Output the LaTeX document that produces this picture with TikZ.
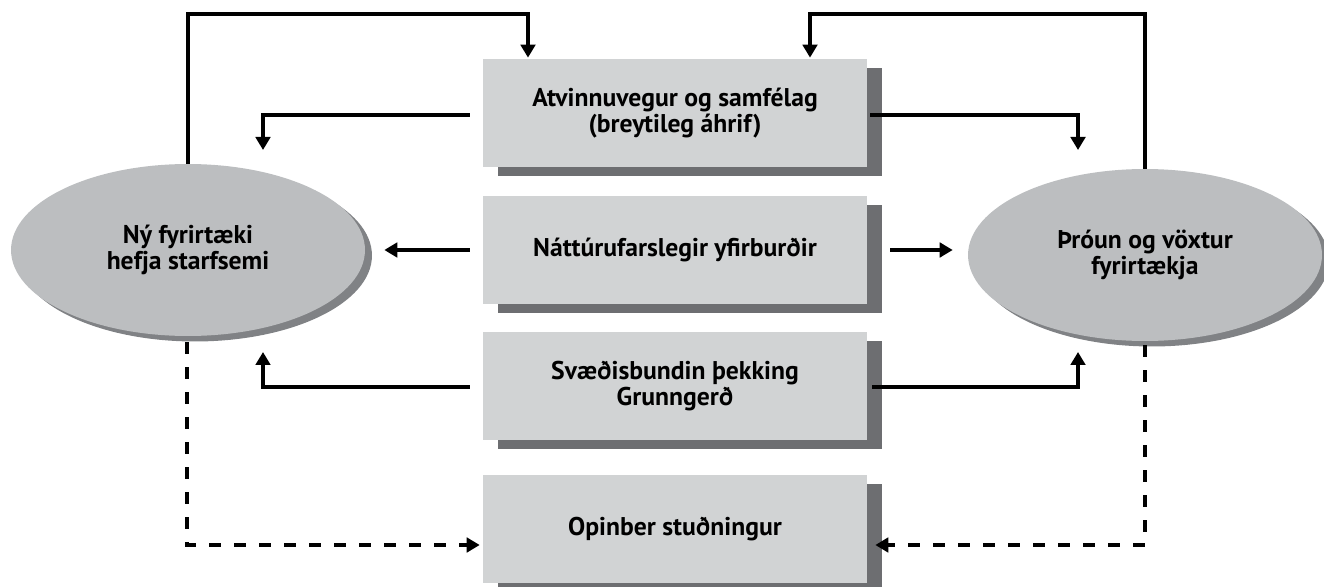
\documentclass[tikz,border=0pt]{standalone}
\usepackage{fontspec}
\setmainfont{PT Sans}
\usepackage{tikz}
\usetikzlibrary{arrows.meta,positioning,calc,shapes.geometric,shadows}
\definecolor{boxgray}{RGB}{209,211,212}
\definecolor{boxshadow}{RGB}{109,110,113}
\definecolor{ovalgray}{RGB}{188,190,192}
\definecolor{ovalshadow}{RGB}{128,130,133}

\begin{document}
\begin{tikzpicture}[x=0.02cm,y=-0.02cm,
    factorbox/.style={fill=boxgray,minimum width=7.68cm,minimum height=2.16cm,inner sep=0pt,align=center,
      font=\fontsize{14.6}{13.2}\selectfont\bfseries,
      drop shadow={shadow xshift=0.3cm,shadow yshift=-0.18cm,fill=boxshadow,opacity=1}},
    firmoval/.style={ellipse,fill=ovalgray,minimum width=7.08cm,minimum height=3.44cm,inner sep=0pt,align=center,
      font=\fontsize{14.6}{13.2}\selectfont\bfseries,
      drop shadow={shadow xshift=0.14cm,shadow yshift=-0.11cm,fill=ovalshadow,opacity=1}},
    flow/.style={line width=2.3pt,-{Triangle[width=0.29cm,length=0.26cm]}},
    support/.style={flow,dash pattern=on 0.24cm off 0.26cm}]
  \useasboundingbox (0,0) rectangle (1324,587);

  \node[factorbox] (atvinnu) at (675,113) {Atvinnuvegur og samfélag\\(breytileg áhrif)};
  \node[factorbox] (natt) at (675,250) {Náttúrufarslegir yfirburðir};
  \node[factorbox] (svaedi) at (675,386) {Svæðisbundin þekking\\Grunngerð};
  \node[factorbox] (opinber) at (675,529) {Opinber stuðningur};

  \node[firmoval] (nyfyr) at (188,250) {Ný fyrirtæki\\hefja starfsemi};
  \node[firmoval] (throun) at (1145,255) {Þróun og vöxtur\\fyrirtækja};

  % feedback over the top
  \draw[flow] (nyfyr.north) |- ($(atvinnu.north)+(-147,-45)$) -- ($(atvinnu.north)+(-147,-1)$);
  \draw[flow] (throun.north) |- ($(atvinnu.north)+(135,-45)$) -- ($(atvinnu.north)+(135,-1)$);

  % factors to both kinds of firms
  \draw[flow] ($(atvinnu.west)+(-13,2)$) -| ($(nyfyr.center)+(75,-100)$);
  \draw[flow] ($(atvinnu.east)+(3,2)$) -| ($(throun.center)+(-67,-105)$);
  \draw[flow] ($(natt.west)+(-13,0)$) -- ($(natt.west -| nyfyr.east)+(19,0)$);
  \draw[flow] ($(natt.east)+(23,0)$) -- ($(natt.east -| throun.west)+(-15,0)$);
  \draw[flow] ($(svaedi.west)+(-13,1)$) -| ($(nyfyr.center)+(75,102)$);
  \draw[flow] ($(svaedi.east)+(5,1)$) -| ($(throun.center)+(-67,97)$);

  % public support
  \draw[support] ($(nyfyr.south)+(-1,6)$) |- ($(opinber.west)+(-3,16)$);
  \draw[support] ($(throun.south)+(0,4)$) |- ($(opinber.east)+(8,16)$);
\end{tikzpicture}
\end{document}
